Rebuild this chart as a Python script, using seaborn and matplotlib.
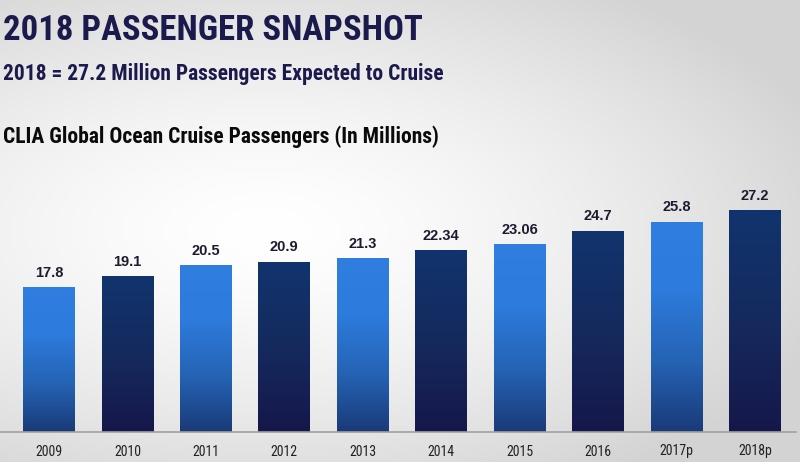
import numpy as np
import pandas as pd
import matplotlib.pyplot as plt
import seaborn as sns
from matplotlib import font_manager
from matplotlib.colors import LinearSegmentedColormap

years = ["2009", "2010", "2011", "2012", "2013", "2014", "2015", "2016", "2017p", "2018p"]
passengers = [17.8, 19.1, 20.5, 20.9, 21.3, 22.34, 23.06, 24.7, 25.8, 27.2]
labels = ["17.8", "19.1", "20.5", "20.9", "21.3", "22.34", "23.06", "24.7", "25.8", "27.2"]

df = pd.DataFrame({"year": years, "passengers": passengers})

# look for a narrow face (the slide uses Arial Narrow)
narrow = None
for f in font_manager.fontManager.ttflist:
    n = f.fname.lower()
    if "narrow" in n or "condensed" in n:
        narrow = f.name
        if "liberation" in n:
            break

sns.set_theme(style="white")
plt.rcParams["font.family"] = ["Liberation Sans", "DejaVu Sans"]

fig = plt.figure(figsize=(8, 4.62), dpi=100)

# background gradient
bg = fig.add_axes([0, 0, 1, 1])
gx, gy = np.meshgrid(np.linspace(0, 1, 200), np.linspace(0, 1, 120))
d = np.sqrt(((gx - 0.33) / 1.0) ** 2 + ((gy - 0.5) / 0.85) ** 2)
shade = 1.0 - 0.17 * np.clip(d / 0.75, 0, 1) ** 1.5
bg.imshow(np.dstack([shade, shade, shade]), extent=[0, 1, 0, 1], aspect="auto", origin="lower")
bg.axis("off")

ax = fig.add_axes([0.0005, 30 / 462, 0.994, 244.5 / 462])
ax.patch.set_alpha(0)
sns.barplot(data=df, x="year", y="passengers", width=0.66, ax=ax, color="#2a6fd0", saturation=1)

light = LinearSegmentedColormap.from_list("light", ["#1a3a78", "#2563b4", "#2d7bdc", "#2f7ee0"])
dark = LinearSegmentedColormap.from_list("dark", ["#16174a", "#152a5e", "#11346e"])
grad = np.linspace(0, 1, 256).reshape(-1, 1)

if narrow:
    head = dict(family=[narrow, "Liberation Sans", "DejaVu Sans"])
    sizes = (25, 15.5, 15.5, 10.5, 10)
else:
    head = dict(family=["Liberation Sans", "DejaVu Sans"])
    sizes = (20, 13.5, 13.5, 10.5, 9.5)

for i, bar in enumerate(ax.patches):
    x0, y0 = bar.get_x(), bar.get_y()
    w, h = bar.get_width(), bar.get_height()
    cmap = light if i % 2 == 0 else dark
    im = ax.imshow(grad, cmap=cmap, extent=[x0, x0 + w, y0, y0 + h],
                   origin="lower", aspect="auto", zorder=2)
    im.set_clip_path(bar)
    bar.set_facecolor("none")
    bar.set_edgecolor("none")
    ax.text(x0 + w / 2, h + 0.9, labels[i], ha="center", va="bottom",
            fontsize=sizes[3], fontweight="bold", color="#1c1c30")

ax.set_xlim(-0.62, 9.52)
ax.set_ylim(0, 30)
ax.set_xlabel("")
ax.set_ylabel("")
ax.set_yticks([])
for s in ["top", "right", "left"]:
    ax.spines[s].set_visible(False)
ax.spines["bottom"].set_color("#a0a0a0")
ax.spines["bottom"].set_linewidth(1.2)
ax.tick_params(axis="x", length=0, pad=9, labelsize=sizes[4], labelcolor="#222222")
for t in ax.get_xticklabels():
    t.set_family(head["family"])

fig.text(0.004, 1 - 40 / 462, "2018 PASSENGER SNAPSHOT", fontsize=sizes[0], fontweight="bold",
         color="#1b1a4c", va="baseline", ha="left", **head)
fig.text(0.004, 1 - 80 / 462, "2018 = 27.2 Million Passengers Expected to Cruise", fontsize=sizes[1],
         fontweight="bold", color="#1b1a4c", va="baseline", ha="left", **head)
fig.text(0.004, 1 - 143 / 462, "CLIA Global Ocean Cruise Passengers (In Millions)", fontsize=sizes[2],
         fontweight="bold", color="#0a0a0a", va="baseline", ha="left", **head)

fig.savefig("out.png", dpi=100)
